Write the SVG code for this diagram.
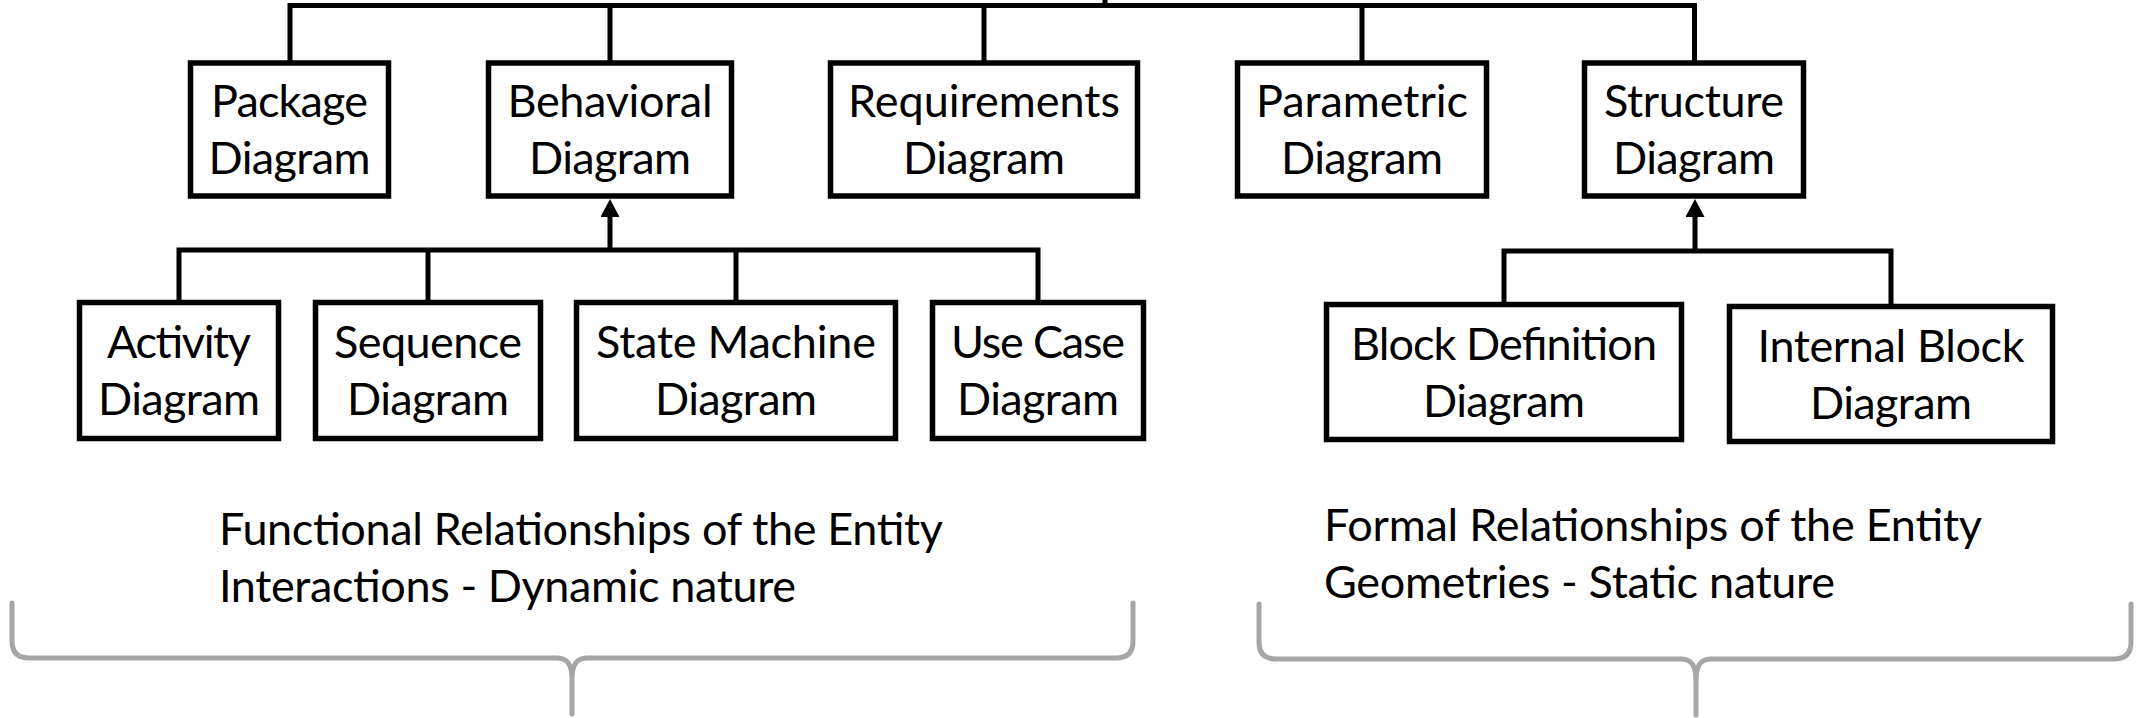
<svg xmlns="http://www.w3.org/2000/svg" width="2136" height="718" viewBox="0 0 2136 718">
<style>
.box{fill:#fff;stroke:#000;stroke-width:5.5}
.lbl{font-family:Lato,"Open Sans","Liberation Sans",sans-serif;font-size:45px;fill:#000;text-anchor:middle}
.note{font-family:Lato,"Open Sans","Liberation Sans",sans-serif;font-size:45px;fill:#000}
.con{fill:none;stroke:#000;stroke-width:5}
.brace{fill:none;stroke:#a6a6a6;stroke-width:5;stroke-linecap:round;stroke-linejoin:round}
</style>
<defs>
<marker id="arr" markerUnits="userSpaceOnUse" markerWidth="19" markerHeight="19" viewBox="0 0 18 19" refX="4" refY="9.5" orient="auto"><path d="M0,0 L18,9.5 L0,19 z" fill="#000"/></marker>
</defs>
<g id="connectors">
<path class="con" d="M1105,0 V6"/>
<path class="con" d="M290,61 V5.5 H1694.5 V61"/>
<path class="con" d="M610,5.5 V61 M984,5.5 V61 M1362,5.5 V61"/>
<path class="con" d="M179,301 V250 H1038 V301 M428,250 V301 M736,250 V301"/>
<path class="con" d="M610,250 V213" marker-end="url(#arr)"/>
<path class="con" d="M1504,303 V251 H1891 V305"/>
<path class="con" d="M1695,251 V213" marker-end="url(#arr)"/>
</g>
<g id="package"><rect class="box" x="190.5" y="63" width="198" height="133"/><text class="lbl" x="289.5" y="117" textLength="157">Package</text><text class="lbl" x="289.5" y="174" textLength="162">Diagram</text></g>
<g id="behavioral"><rect class="box" x="488.5" y="63" width="243" height="133"/><text class="lbl" x="610" y="117" textLength="205">Behavioral</text><text class="lbl" x="610" y="174" textLength="162">Diagram</text></g>
<g id="requirements"><rect class="box" x="830.5" y="63" width="307" height="133"/><text class="lbl" x="984" y="117" textLength="272">Requirements</text><text class="lbl" x="984" y="174" textLength="162">Diagram</text></g>
<g id="parametric"><rect class="box" x="1237.5" y="63" width="249" height="133"/><text class="lbl" x="1362" y="117" textLength="212">Parametric</text><text class="lbl" x="1362" y="174" textLength="162">Diagram</text></g>
<g id="structure"><rect class="box" x="1584.5" y="63" width="219" height="133"/><text class="lbl" x="1694" y="117" textLength="180">Structure</text><text class="lbl" x="1694" y="174" textLength="162">Diagram</text></g>
<g id="activity"><rect class="box" x="79.5" y="302.5" width="199" height="136"/><text class="lbl" x="179" y="358" textLength="144">Activity</text><text class="lbl" x="179" y="415" textLength="162">Diagram</text></g>
<g id="sequence"><rect class="box" x="315.5" y="302.5" width="225" height="136"/><text class="lbl" x="428" y="358" textLength="188">Sequence</text><text class="lbl" x="428" y="415" textLength="162">Diagram</text></g>
<g id="statemachine"><rect class="box" x="576.5" y="302.5" width="319" height="136"/><text class="lbl" x="736" y="358" textLength="280">State Machine</text><text class="lbl" x="736" y="415" textLength="162">Diagram</text></g>
<g id="usecase"><rect class="box" x="932.5" y="302.5" width="211" height="136"/><text class="lbl" x="1038" y="358" textLength="174">Use Case</text><text class="lbl" x="1038" y="415" textLength="162">Diagram</text></g>
<g id="blockdef"><rect class="box" x="1326.5" y="304.5" width="355" height="135"/><text class="lbl" x="1504" y="360" textLength="306">Block Definition</text><text class="lbl" x="1504" y="417" textLength="162">Diagram</text></g>
<g id="internalblock"><rect class="box" x="1729.5" y="306.5" width="323" height="135"/><text class="lbl" x="1891" y="362" textLength="267">Internal Block</text><text class="lbl" x="1891" y="419" textLength="162">Diagram</text></g>
<g id="functional">
<path class="brace" d="M12,603 V641 Q12,658 29,658 H556 C566,658 572,662 572,680 V714 M572,680 C572,662 578,658 588,658 H1116 Q1133,658 1133,641 V603"/>
<text class="note" x="219" y="545" textLength="724">Functional Relationships of the Entity</text>
<text class="note" x="219" y="602" textLength="577">Interactions - Dynamic nature</text>
</g>
<g id="formal">
<path class="brace" d="M1259,604 V642 Q1259,659 1276,659 H1680 C1690,659 1696,663 1696,681 V715 M1696,681 C1696,663 1702,659 1712,659 H2114 Q2131,659 2131,642 V604"/>
<text class="note" x="1324" y="541" textLength="658">Formal Relationships of the Entity</text>
<text class="note" x="1324" y="598" textLength="511">Geometries - Static nature</text>
</g>
</svg>
